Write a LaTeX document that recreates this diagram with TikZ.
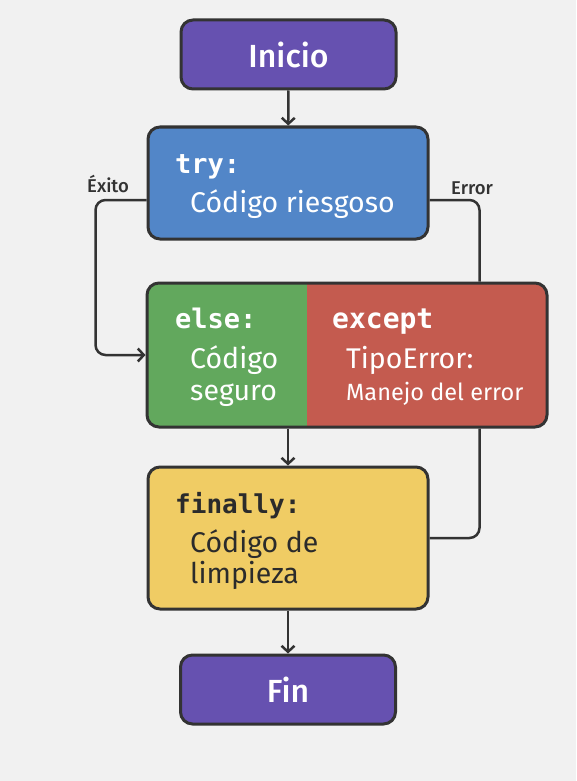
\documentclass[tikz,border=0pt]{standalone}
\usepackage{fontspec}
\setmainfont{Fira Sans}
\newfontfamily\medfont{Fira Sans Medium}
\setmonofont{DejaVu Sans Mono}
\usetikzlibrary{arrows.meta, calc, positioning}

\definecolor{bgc}{HTML}{F1F1F1}
\definecolor{linec}{HTML}{333333}
\definecolor{termc}{HTML}{6651B0}
\definecolor{tryc}{HTML}{5286C8}
\definecolor{elsec}{HTML}{62A85D}
\definecolor{exceptc}{HTML}{C45B4F}
\definecolor{finc}{HTML}{F0CC64}
\definecolor{darktxt}{HTML}{2B2B2B}

\begin{document}
\begin{tikzpicture}[
    x=1pt, y=1pt,
    box/.style={rectangle, draw=linec, line width=3pt, rounded corners=12pt},
    term/.style={box, fill=termc, minimum width=215pt, minimum height=69pt, text=white, font=\medfont\fontsize{32}{38}\selectfont},
    kw/.style={anchor=base west, inner sep=0pt, font=\fontsize{27}{30}\selectfont\ttfamily\bfseries},
    txt/.style={anchor=base west, inner sep=0pt, font=\fontsize{28.5}{33}\selectfont},
    lbl/.style={anchor=base west, inner sep=0pt, text=linec, font=\medfont\fontsize{18.5}{22}\selectfont},
    flow/.style={-{Straight Barb[length=6pt,width=13pt]}, line width=2.5pt, draw=linec},
    back/.style={line width=2.5pt, draw=linec, rounded corners=10pt}
  ]

  % background and margins
  \fill[bgc] (0,0) rectangle (576,-781);
  \useasboundingbox (0,0) rectangle (576,-781);

  % boxes
  \node[term] (inicio) at (288.5,-54.5) {Inicio};
  \node[box, fill=tryc, minimum width=280pt, minimum height=112pt] (try) at (288,-183) {};
  \node[box, fill=exceptc, minimum width=400pt, minimum height=144pt,
        path picture={\fill[elsec, sharp corners] (path picture bounding box.south west) rectangle ($(path picture bounding box.north west)+(160,0)$);}] (mid) at (347,-355) {};
  \node[box, fill=finc, minimum width=280pt, minimum height=142pt] (finally) at (288,-538) {};
  \node[term] (fin) at (288,-689.5) {Fin};

  % texts in the boxes
  \node[kw, text=white] (trykw) at (175,-173) {try:};
  \node[txt, text=white] (trytxt) at (190,-212) {Código riesgoso};
  \node[kw, text=white] (elsekw) at (175,-328) {else:};
  \node[txt, text=white] (elsetxt) at (190,-368) {Código};
  \node[txt, text=white] (elsetxtb) at (190,-400) {seguro};
  \node[kw, text=white, font=\fontsize{28}{30}\selectfont\ttfamily\bfseries] (exceptkw) at (332,-328) {except};
  \node[txt, text=white] (excepttxt) at (346,-368) {TipoError:};
  \node[txt, text=white, font=\fontsize{23.5}{27}\selectfont] (excepttxtb) at (346,-400) {Manejo del error};
  \node[kw, text=darktxt, font=\fontsize{26}{30}\selectfont\ttfamily\bfseries] (finkw) at (175,-513) {finally:};
  \node[txt, text=darktxt] (fintxt) at (190,-552) {Código de};
  \node[txt, text=darktxt] (fintxtb) at (190,-583) {limpieza};

  % labels
  \node[lbl] (exito) at (87,-192) {Éxito};
  \node[lbl] (error) at (451,-194) {Error};

  % main flow
  \draw[flow] (inicio) -- (try);
  \draw[flow] (mid.south -| finally.north) -- (finally.north);
  \draw[flow] (finally) -- (fin);

  % branches
  \coordinate (exitoturn) at ($(mid.west)+(-50,0)$);
  \coordinate (errtop) at ($(mid.north east)+(-69,0)$);
  \coordinate (errbot) at ($(mid.south east)+(-69,0)$);
  \draw[back, -{Straight Barb[length=6pt,width=13pt]}] ([yshift=-17pt]try.west) -| (exitoturn) -- (mid.west);
  \draw[back] ([yshift=-17pt]try.east) -| (errtop);
  \draw[back] (errbot) |- (finally.east);
\end{tikzpicture}
\end{document}
